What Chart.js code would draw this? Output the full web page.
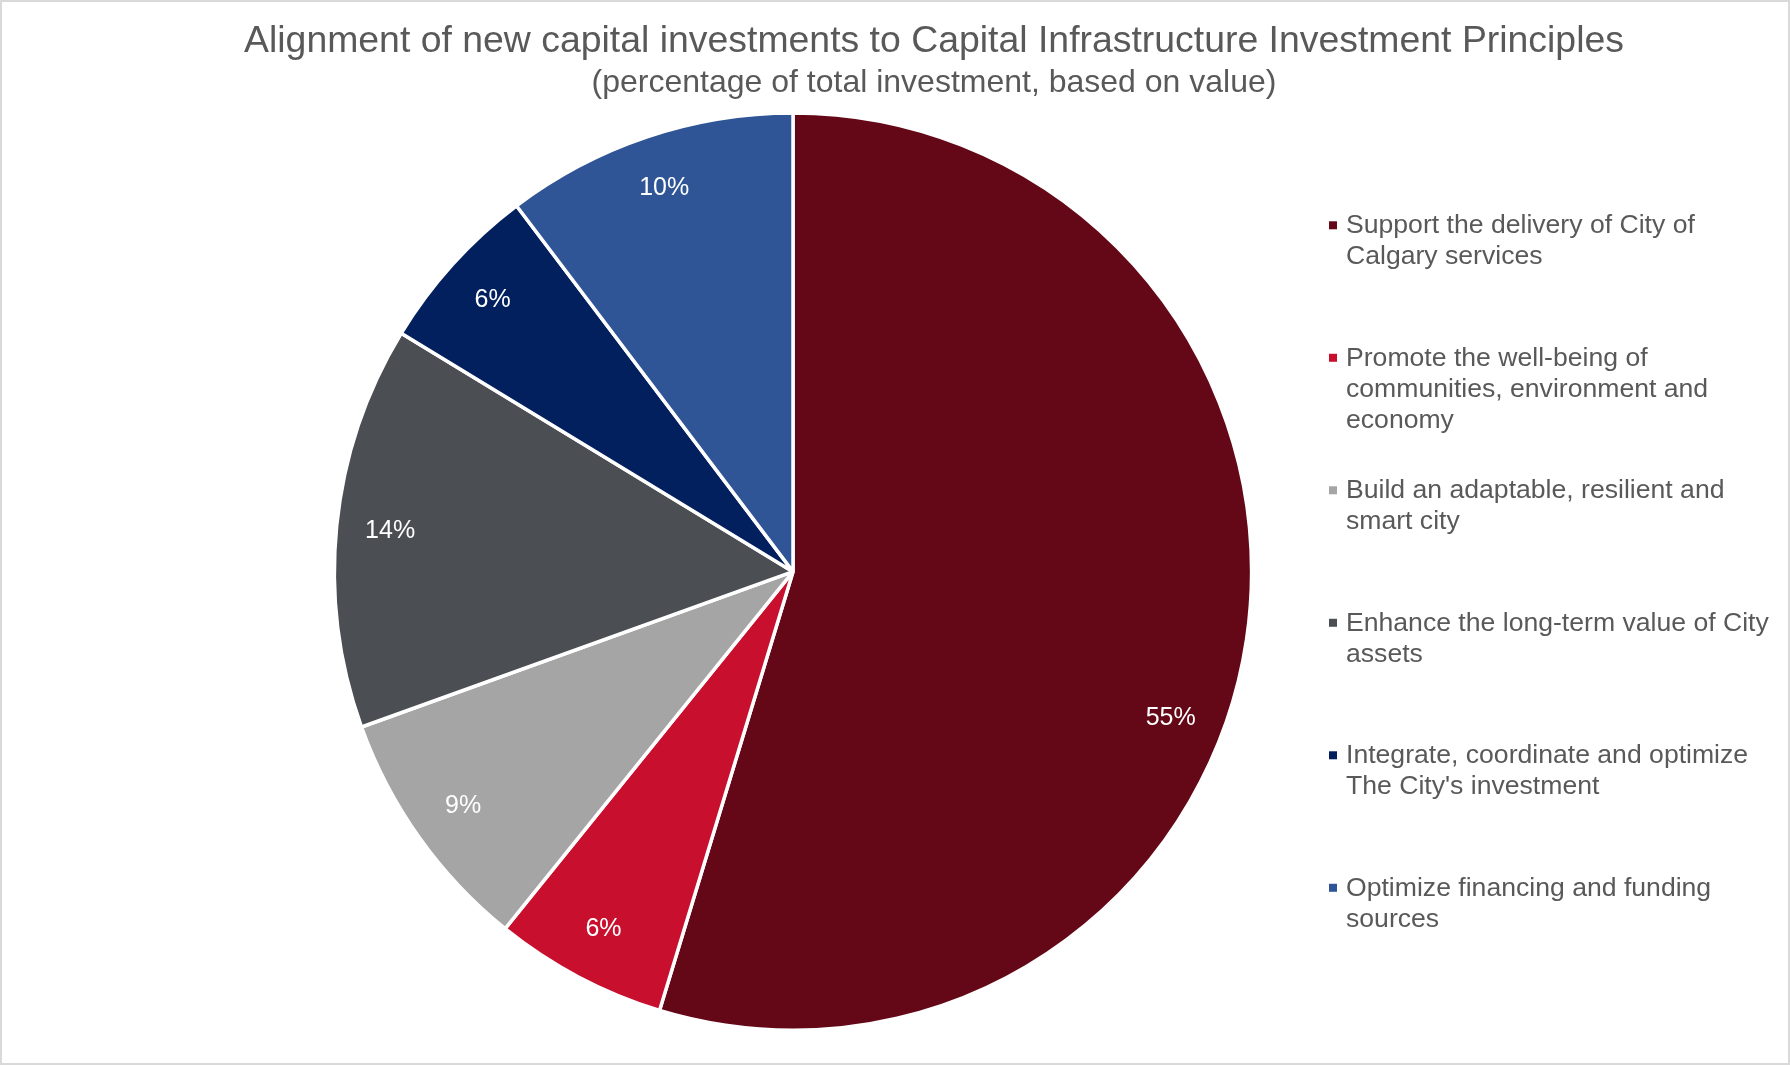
<!DOCTYPE html>
<html>
<head>
<meta charset="utf-8">
<title>Alignment of new capital investments</title>
<script src="https://cdn.jsdelivr.net/npm/chart.js@4.4.0/dist/chart.umd.min.js"></script>
<style>
    body { margin: 0; background: #ffffff; }
    canvas { display: block; }
</style>
</head>
<body>
<canvas id="principlesChart" width="1790" height="1065"></canvas>
<script>
const chartTitle = 'Alignment of new capital investments to Capital Infrastructure Investment Principles';
const chartSubtitle = '(percentage of total investment, based on value)';

// legend labels, already broken into lines like the original
const categories = [
    ['Support the delivery of City of', 'Calgary services'],
    ['Promote the well-being of', 'communities, environment and', 'economy'],
    ['Build an adaptable, resilient and', 'smart city'],
    ['Enhance the long-term value of City', 'assets'],
    ['Integrate, coordinate and optimize', "The City's investment"],
    ['Optimize financing and funding', 'sources']
];
const shares = [54.7, 6.1, 8.7, 14.2, 6.0, 10.3];
const sliceColors = ['#640817', '#C8102E', '#A5A5A5', '#4B4F54', '#03205E', '#2F5597'];

const FONT = '"Liberation Sans", Arial, sans-serif';
const TEXT_GREY = '#595959';

function drawSideLegend(chart, box) {
    const ctx = chart.ctx;
    const markerX = box.left - 179;
    const textX = box.left - 162;
    ctx.save();
    ctx.font = '26.6px ' + FONT;
    ctx.textAlign = 'left';
    ctx.textBaseline = 'alphabetic';
    categories.forEach((lines, i) => {
        const baseY = box.top + 122 + i * 132.5;
        ctx.fillStyle = sliceColors[i];
        ctx.fillRect(markerX, baseY - 12, 8, 8);
        ctx.fillStyle = TEXT_GREY;
        lines.forEach((line, j) => {
            ctx.fillText(line, textX, baseY + j * 31);
        });
    });
    ctx.restore();
}

// reserves room on the right so the pie sits left of the title centre
const sideLegend = {
    id: 'sideLegend',
    beforeInit(chart) {
        Chart.layouts.addBox(chart, {
            position: 'right',
            weight: 0,
            fullSize: false,
            options: {},
            isHorizontal() { return false; },
            update(maxWidth, maxHeight) {
                this.width = 282;
                this.height = maxHeight;
            },
            draw() { drawSideLegend(chart, this); }
        });
    }
};

const sliceLabels = {
    id: 'sliceLabels',
    afterDatasetsDraw(chart, args, opts) {
        const ctx = chart.ctx;
        const meta = chart.getDatasetMeta(0);
        ctx.save();
        ctx.font = '25px ' + FONT;
        ctx.fillStyle = '#ffffff';
        ctx.textAlign = 'center';
        ctx.textBaseline = 'middle';
        meta.data.forEach((arc, i) => {
            const p = arc.getProps(['x', 'y', 'startAngle', 'endAngle', 'outerRadius'], true);
            const shift = (opts.angleShift[i] || 0) * Math.PI / 180;
            const mid = (p.startAngle + p.endAngle) / 2 + shift;
            const r = p.outerRadius * opts.radiusRatio;
            ctx.fillText(Math.round(shares[i]) + '%', p.x + Math.cos(mid) * r, p.y + Math.sin(mid) * r);
        });
        ctx.restore();
    }
};

const frameBorder = {
    id: 'frameBorder',
    afterDraw(chart) {
        const ctx = chart.ctx;
        ctx.save();
        ctx.strokeStyle = '#d9d9d9';
        ctx.lineWidth = 2;
        ctx.strokeRect(1, 1, chart.width - 2, chart.height - 2);
        ctx.restore();
    }
};

new Chart(document.getElementById('principlesChart'), {
    type: 'pie',
    data: {
        labels: categories,
        datasets: [{
            data: shares,
            backgroundColor: sliceColors,
            borderColor: '#ffffff',
            borderWidth: 3.5
        }]
    },
    options: {
        responsive: false,
        animation: false,
        layout: {
            padding: { left: 78, right: 0, top: 0, bottom: 33 }
        },
        plugins: {
            legend: { display: false },
            tooltip: { enabled: false },
            title: {
                display: true,
                text: chartTitle,
                color: TEXT_GREY,
                font: { family: FONT, size: 37.4, weight: 'normal' },
                padding: { top: 19, bottom: 0 }
            },
            subtitle: {
                display: true,
                text: chartSubtitle,
                color: TEXT_GREY,
                font: { family: FONT, size: 32, weight: 'normal' },
                padding: { top: 0, bottom: 9 }
            },
            sliceLabels: {
                radiusRatio: 0.883,
                angleShift: [12.7, 0, 0, 0, 0, 0]
            }
        }
    },
    plugins: [sideLegend, sliceLabels, frameBorder]
});
</script>
</body>
</html>
